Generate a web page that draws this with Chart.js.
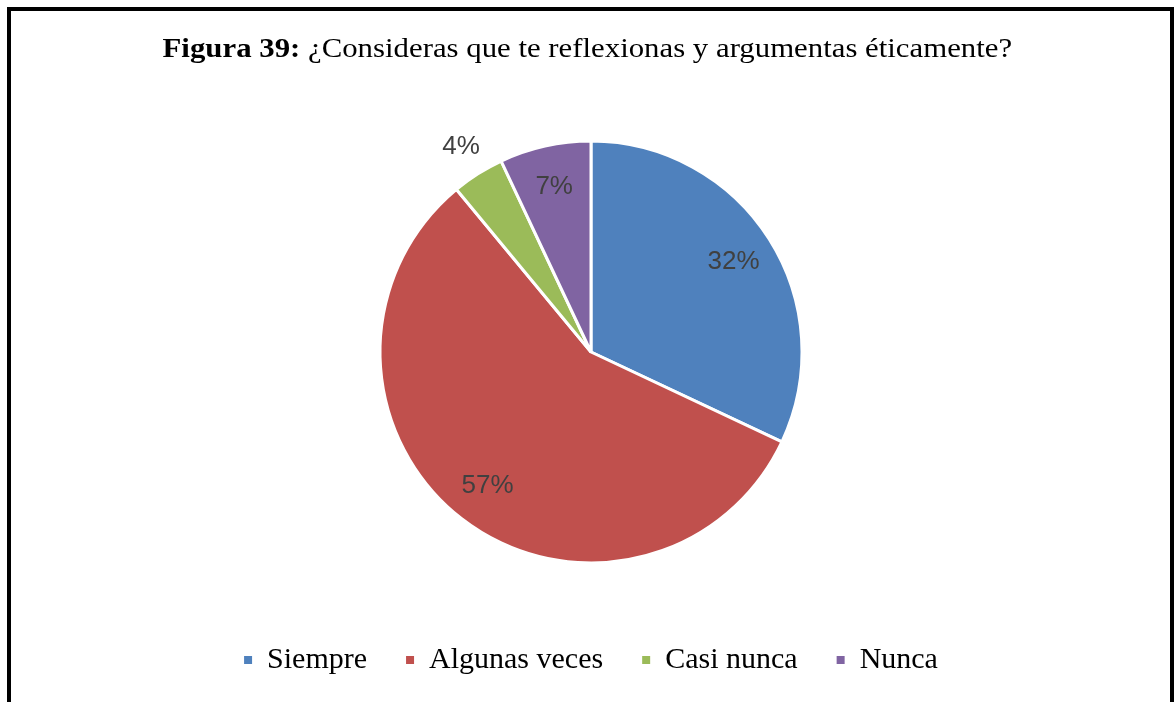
<!DOCTYPE html>
<html>
<head>
<meta charset="utf-8">
<script src="https://cdn.jsdelivr.net/npm/chart.js@4/dist/chart.umd.min.js"></script>
<style>
  html, body { margin: 0; padding: 0; background: #fff; }
  body { width: 1175px; height: 702px; position: relative; overflow: hidden; }
  #frame {
    position: absolute; left: 7px; top: 7px; width: 1159px; height: 760px;
    border: 4px solid #000; box-sizing: content-box;
  }
  #title {
    position: absolute; left: 0; top: 34px; width: 1175px; text-align: center;
    font-family: 'Liberation Serif', 'Times New Roman', serif; font-size: 28px;
    line-height: 28px; color: #000; white-space: nowrap;
    transform: scaleX(1.1); transform-origin: 589px 0;
  }
  #chart { position: absolute; left: 0; top: 0; }
</style>
</head>
<body>
<canvas id="chart" width="1175" height="702"></canvas>
<div id="frame"></div>
<div id="title"><b>Figura 39:</b> ¿Consideras que te reflexionas y argumentas éticamente?</div>
<script>
const categories = ['Siempre', 'Algunas veces', 'Casi nunca', 'Nunca']
const percentages = [32, 57, 4, 7]
const sliceColors = ['#4F81BD', '#C0504D', '#9BBB59', '#8064A2']

// percentage labels: inside the slice, small ones pushed outside
const sliceLabels = {
  id: 'sliceLabels',
  afterDatasetsDraw (chart) {
    const ctx = chart.ctx
    const meta = chart.getDatasetMeta(0)
    ctx.save()
    ctx.font = '26px "Liberation Sans", Arial, sans-serif'
    ctx.textAlign = 'center'
    ctx.textBaseline = 'middle'
    ctx.fillStyle = '#404040'
    meta.data.forEach((arc, i) => {
      const { x, y, startAngle, endAngle, outerRadius } = arc.getProps(['x', 'y', 'startAngle', 'endAngle', 'outerRadius'], true)
      const mid = (startAngle + endAngle) / 2
      const r = percentages[i] < 5 ? outerRadius * 1.15 : outerRadius * 0.8
      ctx.fillText(percentages[i] + '%', x + Math.cos(mid) * r, y + Math.sin(mid) * r)
    })
    ctx.restore()
  }
}

const defaultLabels = Chart.overrides.pie.plugins.legend.labels.generateLabels

const chart = new Chart(document.getElementById('chart').getContext('2d'), {
  type: 'pie',
  data: {
    labels: categories,
    datasets: [{
      data: percentages,
      backgroundColor: sliceColors,
      borderColor: '#fff',
      borderWidth: 3,
      hoverOffset: 0,
      radius: 211
    }]
  },
  options: {
    responsive: false,
    animation: false,
    layout: { padding: { top: 98, bottom: 17, left: 7, right: 0 } },
    plugins: {
      tooltip: { enabled: false },
      legend: {
        position: 'bottom',
        labels: {
          boxWidth: 8,
          boxHeight: 8,
          padding: 39,
          color: '#000',
          font: { family: "'Liberation Serif', 'Times New Roman', serif", size: 30 },
          generateLabels (chart) {
            return defaultLabels(chart).map(item => Object.assign(item, { lineWidth: 0 }))
          }
        }
      }
    }
  },
  plugins: [sliceLabels]
})
</script>
</body>
</html>
